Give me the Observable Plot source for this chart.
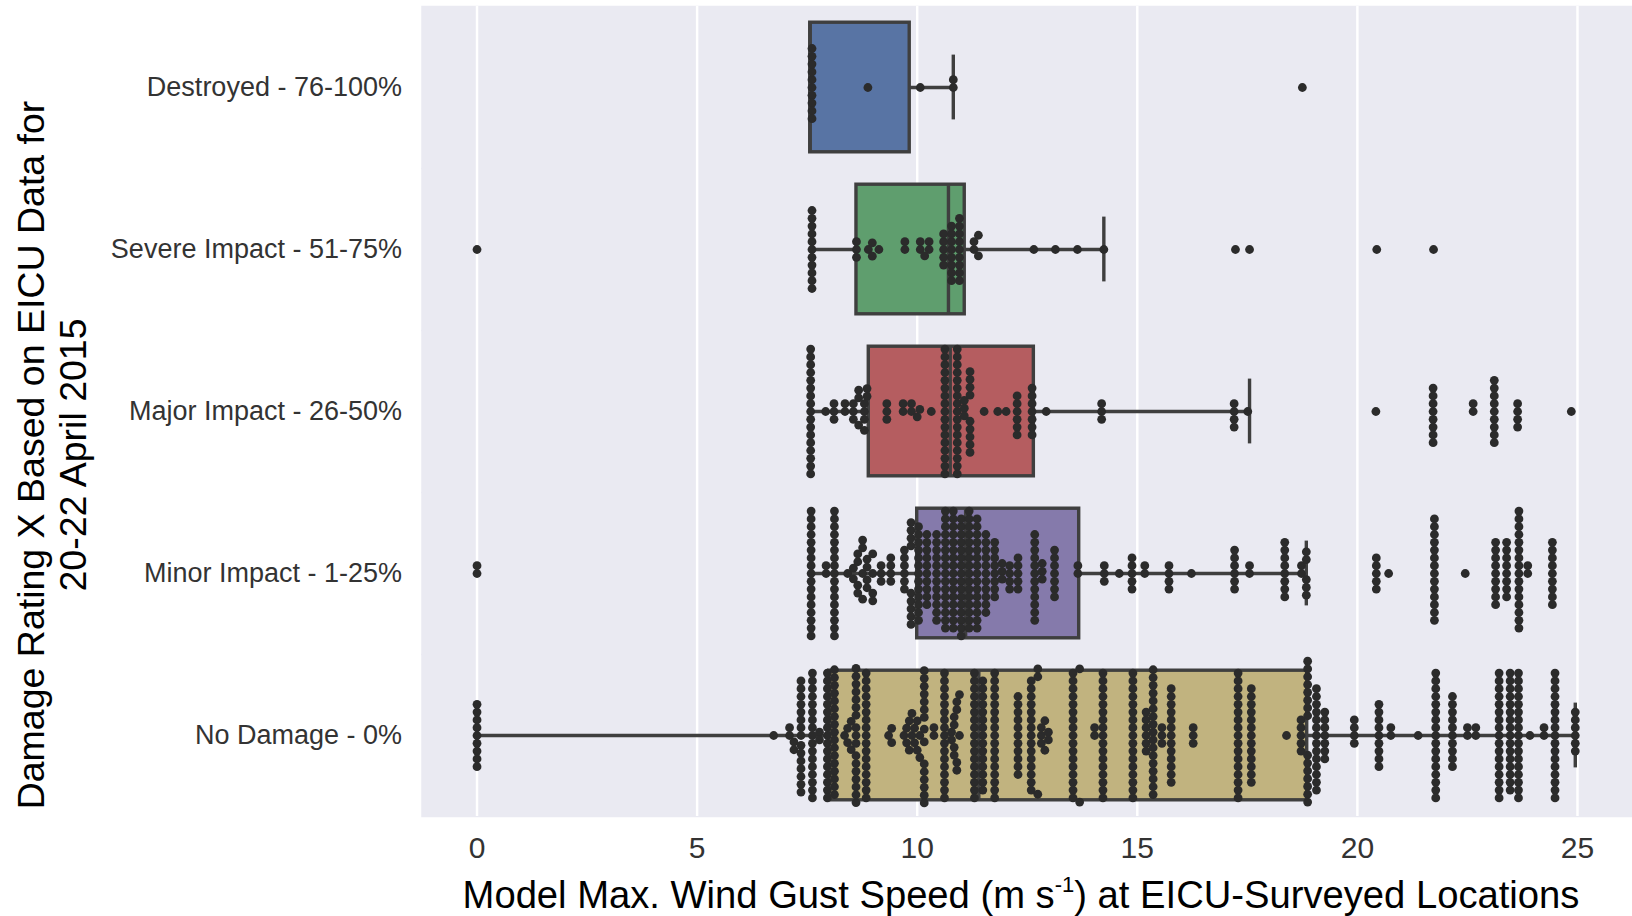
<!DOCTYPE html>
<html>
<head>
<meta charset="utf-8">
<script src="https://cdn.jsdelivr.net/npm/d3@7"></script>
<script src="https://cdn.jsdelivr.net/npm/@observablehq/plot@0.6"></script>
<style>
  html, body { margin: 0; padding: 0; background: #ffffff; overflow: hidden; }
  #wrap { position: relative; width: 1632px; height: 916px; font-family: "Liberation Sans", Arial, sans-serif; }
  #ytitle { position: absolute; left: 52px; top: 455px; width: 820px; transform: translate(-50%, -50%) rotate(-90deg);
            text-align: center; font-size: 37.5px; line-height: 42px; color: #000; white-space: nowrap; }
  #xtitle { position: absolute; left: 1021px; top: 876px; transform: translateX(-50%);
            font-size: 38.2px; line-height: 38px; color: #000; white-space: nowrap; }
  #xtitle .sup { position: relative; top: -0.75em; font-size: 22px; line-height: 0; }
</style>
</head>
<body>
<div id="wrap">
  <div id="chart"></div>
  <div id="ytitle">Damage Rating X Based on EICU Data for<br>20-22 April 2015</div>
  <div id="xtitle">Model Max. Wind Gust Speed (m s<span class="sup">-1</span>) at EICU-Surveyed Locations</div>
</div>
<script>
// ---- categories & box statistics ----
const categories = ["Destroyed - 76-100%", "Severe Impact - 51-75%", "Major Impact - 26-50%", "Minor Impact - 1-25%", "No Damage - 0%"];
const boxColors  = ["#5874A4", "#5F9E6E", "#B55D60", "#857AAB", "#C1B37F"];
const q1         = [7.57, 8.62, 8.90, 10.00, 8.00];
const medians    = [7.57, 10.71, 10.75, 11.10, 11.40];
const q3         = [9.83, 11.08, 12.65, 13.68, 18.86];
const whiskerLo  = [7.57, 7.61, 7.58, 7.60, 0.00];
const whiskerHi  = [10.82, 14.24, 17.55, 18.84, 24.95];
const xTicks     = [0, 5, 10, 15, 20, 25];

// ---- observations: [wind gust value, number of locations] ----
const destroyedObs = [[7.61,10],[8.88,1],[10.07,1],[10.82,2],[18.75,1]];
const severeObs = [[0,1],[7.61,11],[8.62,3],[8.89,1],[8.98,2],[9.13,1],[9.72,2],[10.07,2],[10.17,1],[10.27,2],
  [10.60,5],[10.78,8],[10.96,9],[11.29,2],[11.39,2],[12.65,1],[13.14,1],[13.64,1],[14.24,1],
  [17.23,1],[17.55,1],[20.44,1],[21.73,1]];
const majorObs = [[7.58,17],[7.92,1],[8.11,3],[8.36,2],[8.55,3],[8.67,3],[8.80,4],[8.86,2],[9.31,3],[9.68,2],
  [9.87,2],[10.0,1],[10.06,1],[10.32,1],[10.63,17],[10.91,17],[11.07,3],[11.20,9],[11.52,1],[11.83,1],
  [12.02,1],[12.27,6],[12.61,7],[12.93,1],[14.19,3],[17.20,4],[17.51,1],[20.42,1],[21.72,8],[22.63,2],
  [23.11,9],[23.64,4],[24.86,1]];
const minorObs = [[0,2],[7.59,17],[7.93,2],[8.12,17],[8.42,1],[8.55,2],[8.65,4],[8.76,4],[8.86,4],[8.99,4],
  [9.18,3],[9.40,4],[9.71,6],[9.86,9],[10.03,13],[10.22,10],[10.44,12],[10.64,16],[10.82,16],[11.00,16],
  [11.18,16],[11.36,15],[11.56,11],[11.76,8],[11.93,3],[12.10,4],[12.29,5],[12.67,12],[12.84,3],[13.12,7],
  [13.65,2],[14.25,3],[14.59,1],[14.88,5],[15.17,2],[15.72,4],[16.23,1],[17.21,6],[17.55,2],[18.35,8],
  [18.73,2],[18.84,5],[20.43,5],[20.71,1],[21.75,14],[22.45,1],[23.14,9],[23.39,8],[23.67,16],[23.87,2],
  [24.43,9]];
const noDamageObs = [[0,9],[6.74,1],[7.10,2],[7.20,2],[7.36,15],[7.62,17],[7.78,2],[7.96,17],[8.12,17],[8.35,1],
  [8.42,2],[8.50,2],[8.61,17],[8.84,17],[9.35,1],[9.42,2],[9.70,1],[9.76,2],[9.82,2],[9.88,2],[9.94,2],
  [10.00,2],[10.06,2],[10.16,15],[10.38,2],[10.62,17],[10.78,2],[10.84,4],[10.90,4],[10.96,2],[11.30,17],
  [11.49,15],[11.76,17],[12.29,11],[12.59,15],[12.74,3],[12.82,3],[12.90,2],[12.98,2],[13.54,17],[13.69,2],
  [14.03,2],[14.22,17],[14.90,17],[15.20,6],[15.36,17],[15.56,3],[15.77,13],[16.27,3],[17.29,17],[17.59,13],
  [18.39,1],[18.72,5],[18.87,15],[19.07,14],[19.26,7],[19.93,4],[20.49,9],[20.76,2],[21.38,1],[21.78,17],
  [22.16,10],[22.50,2],[22.69,2],[23.22,17],[23.47,16],[23.66,17],[23.92,1],[24.24,2],[24.49,17],[24.95,6]];

// ---- tables built from the arrays above ----
const obsByCat = [destroyedObs, severeObs, majorObs, minorObs, noDamageObs];
const points = [];
categories.forEach((cat, i) => {
  obsByCat[i].slice().sort((a, b) => a[0] - b[0]).forEach(([v, n]) => {
    for (let k = 0; k < n; k++) points.push({cat, v});
  });
});
const boxes = categories.map((cat, i) => ({
  cat, color: boxColors[i], q1: q1[i], med: medians[i], q3: q3[i], lo: whiskerLo[i], hi: whiskerHi[i]
}));

const lineColor = "#3f3f3f";
const lw = 3.4;
const bg = "#EAEAF2";

const chart = Plot.plot({
  width: 1632,
  height: 872,
  marginLeft: 421.5,
  marginRight: 0,
  marginTop: 6,
  marginBottom: 56,
  style: {fontFamily: "'Liberation Sans', Arial, sans-serif", color: "#333", background: "#ffffff"},
  x: {domain: [-1.25, 26.25], ticks: xTicks, tickSize: 0, tickPadding: 20, label: null},
  y: {domain: [-0.5, 0.5], axis: null},
  fy: {domain: categories, padding: 0, axis: "left", label: null, tickSize: 0, tickPadding: 20},
  marks: [
    Plot.frame({fill: bg, stroke: bg, strokeWidth: 1.5}),
    Plot.ruleX(xTicks, {stroke: "#ffffff", strokeWidth: 2.5}),
    Plot.ruleY(boxes, {fy: "cat", y: 0, x1: "lo", x2: "q1", stroke: lineColor, strokeWidth: lw}),
    Plot.ruleY(boxes, {fy: "cat", y: 0, x1: "q3", x2: "hi", stroke: lineColor, strokeWidth: lw}),
    Plot.ruleX(boxes, {fy: "cat", x: "lo", y1: -0.2, y2: 0.2, stroke: lineColor, strokeWidth: lw}),
    Plot.ruleX(boxes, {fy: "cat", x: "hi", y1: -0.2, y2: 0.2, stroke: lineColor, strokeWidth: lw}),
    Plot.rect(boxes, {fy: "cat", x1: "q1", x2: "q3", y1: -0.4, y2: 0.4, fill: "color", stroke: lineColor, strokeWidth: lw}),
    Plot.ruleX(boxes, {fy: "cat", x: "med", y1: -0.4, y2: 0.4, stroke: lineColor, strokeWidth: lw}),
    Plot.dot(points, Plot.dodgeY({fy: "cat", x: "v", anchor: "middle", r: 4.4, padding: -1.0, fill: "#2b2b2b", stroke: null}))
  ]
});
document.getElementById("chart").appendChild(chart);

const svg = d3.select(chart);
svg.selectAll('g[aria-label^="fy-axis"] text').attr("font-size", 27).attr("fill", "#333");
svg.selectAll('g[aria-label^="x-axis"] text')
   .attr("font-size", 30)
   .attr("font-family", "'Liberation Sans Narrow', 'Liberation Sans', Arial, sans-serif")
   .attr("fill", "#333");
</script>
</body>
</html>
